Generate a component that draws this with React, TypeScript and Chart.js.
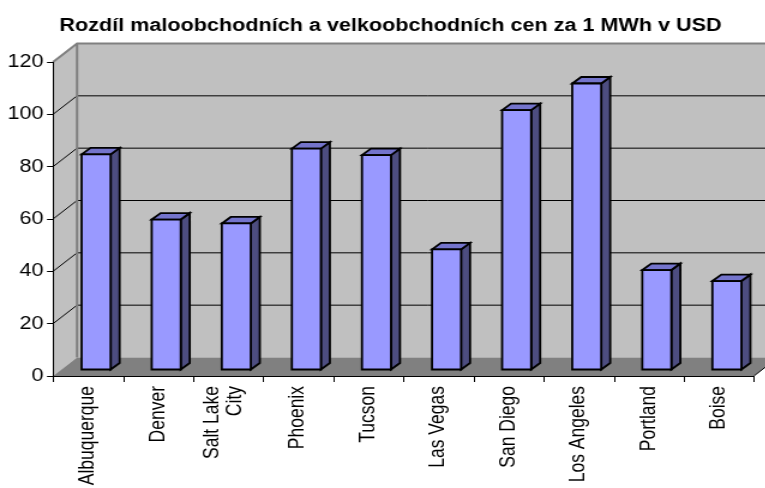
import React, { useEffect, useRef } from "react";
import { Chart, registerables } from "chart.js";

Chart.register(...registerables);

const TITLE = "Rozdíl maloobchodních a velkoobchodních cen za 1 MWh v USD";
const CATEGORIES: (string | string[])[] = [
  "Albuquerque",
  "Denver",
  ["Salt Lake", "City"],
  "Phoenix",
  "Tucson",
  "Las Vegas",
  "San Diego",
  "Los Angeles",
  "Portland",
  "Boise",
];
const VALUES = [82.4, 57.5, 56, 84.6, 82.1, 46.1, 99.3, 109.5, 38.2, 34];
const Y_MIN = 0;
const Y_MAX = 120;
const Y_STEP = 20;

// drawing constants (canvas units; the canvas bitmap is stretched horizontally)
const SX = 765 / 638;
const CANVAS_W = 651;
const CANVAS_H = 488;
const WALL_DX = 20;
const WALL_DY = -18.5;
const BAR_OX = 6.7;
const BAR_OY = -6;
const BAR_DX = 7.5;
const BAR_DY = -6.5;
const BAR_THICKNESS = 24.2;
const X_TICK_LEN = 6;
const MULTILINE_SHIFT = 0.23; // centre two-line labels on their category
const FONT = "'Liberation Sans', Arial, sans-serif";

function poly(ctx: CanvasRenderingContext2D, pts: number[][], fill?: string, stroke?: string, lw = 1) {
  ctx.beginPath();
  ctx.moveTo(pts[0][0], pts[0][1]);
  for (let i = 1; i < pts.length; i++) ctx.lineTo(pts[i][0], pts[i][1]);
  ctx.closePath();
  if (fill) {
    ctx.fillStyle = fill;
    ctx.fill();
  }
  if (stroke) {
    ctx.strokeStyle = stroke;
    ctx.lineWidth = lw;
    ctx.stroke();
  }
}

const threeDPlugin = {
  id: "threeD",
  beforeDraw(chart: any) {
    const { ctx, chartArea: a } = chart;
    const y = chart.scales.y;
    const L = a.left;
    const R = a.right;
    const T = y.getPixelForValue(Y_MAX);
    const B = y.getPixelForValue(Y_MIN);
    ctx.save();
    ctx.fillStyle = "#c0c0c0";
    ctx.fillRect(L + WALL_DX, T + WALL_DY, R - L, B - T);
    poly(ctx, [[L, T], [L + WALL_DX, T + WALL_DY], [L + WALL_DX, B + WALL_DY], [L, B]], "#c0c0c0");
    poly(ctx, [[L, B], [R, B], [R + WALL_DX, B + WALL_DY], [L + WALL_DX, B + WALL_DY]], "#808080");
    ctx.strokeStyle = "#000000";
    ctx.lineWidth = 1;
    for (const t of y.ticks) {
      const v = t.value;
      if (v <= Y_MIN || v >= Y_MAX) continue;
      const py = y.getPixelForValue(v);
      ctx.beginPath();
      ctx.moveTo(L, py);
      ctx.lineTo(L + WALL_DX, py + WALL_DY);
      ctx.lineTo(R + WALL_DX, py + WALL_DY);
      ctx.stroke();
    }
    ctx.strokeStyle = "#808080";
    ctx.lineWidth = 2;
    ctx.beginPath();
    ctx.moveTo(L, T);
    ctx.lineTo(L + WALL_DX, T + WALL_DY);
    ctx.lineTo(R + WALL_DX, T + WALL_DY);
    ctx.moveTo(L + WALL_DX, T + WALL_DY);
    ctx.lineTo(L + WALL_DX, B + WALL_DY);
    ctx.stroke();
    ctx.strokeStyle = "#000000";
    ctx.lineWidth = 1;
    ctx.beginPath();
    ctx.moveTo(R, B);
    ctx.lineTo(R + WALL_DX, B + WALL_DY);
    ctx.stroke();
    ctx.restore();
  },
  afterDatasetsDraw(chart: any) {
    const { ctx } = chart;
    const meta = chart.getDatasetMeta(0);
    ctx.save();
    ctx.lineJoin = "miter";
    meta.data.forEach((el: any) => {
      const { x, y, base, width } = el.getProps(["x", "y", "base", "width"], true);
      const l = x - width / 2 + BAR_OX;
      const r = x + width / 2 + BAR_OX;
      const t = y + BAR_OY;
      const b = base + BAR_OY;
      poly(ctx, [[r, t], [r + BAR_DX, t + BAR_DY], [r + BAR_DX, b + BAR_DY], [r, b]], "#4d4d80", "#000", 1.8);
      poly(ctx, [[l, t], [l + BAR_DX, t + BAR_DY], [r + BAR_DX, t + BAR_DY], [r, t]], "#7474cc", "#000", 1.8);
      poly(ctx, [[l, t], [r, t], [r, b], [l, b]], "#9999ff", "#000", 1.8);
    });
    // category boundary tick marks on the x axis
    const xs = chart.scales.x;
    const y0 = chart.chartArea.bottom;
    ctx.strokeStyle = "#000";
    ctx.lineWidth = 1;
    ctx.beginPath();
    for (let i = 0; i <= CATEGORIES.length; i++) {
      const px = Math.round(xs.getPixelForValue(i - 0.5)) + 0.5;
      ctx.moveTo(px, y0);
      ctx.lineTo(px, y0 + X_TICK_LEN);
    }
    ctx.stroke();
    ctx.restore();
  },
};

export default function App() {
  const ref = useRef<HTMLCanvasElement | null>(null);
  useEffect(() => {
    if (!ref.current) return;
    const chart = new Chart(ref.current, {
      type: "bar",
      data: {
        labels: CATEGORIES,
        datasets: [
          {
            data: VALUES,
            backgroundColor: "rgba(0,0,0,0)",
            borderWidth: 0,
            barThickness: BAR_THICKNESS,
            yAxisID: "y",
          },
        ],
      },
      options: {
        animation: false,
        responsive: false,
        devicePixelRatio: 1,
        layout: { padding: 0 },
        plugins: {
          legend: { display: false },
          tooltip: { enabled: false },
          title: {
            display: true,
            text: TITLE,
            color: "#000",
            font: { family: FONT, size: 18, weight: "bold", lineHeight: 1.2 },
            padding: { top: 15.7, bottom: 24.7 },
          },
        },
        scales: {
          x: {
            afterFit: (s: any) => {
              s.height = 112;
            },
            afterTickToLabelConversion: (s: any) => {
              s.ticks.forEach((t: any) => {
                if (Array.isArray(t.label) && t.label.length > 1) t.value = t.value - MULTILINE_SHIFT;
              });
            },
            grid: {
              display: true,
              offset: true,
              drawOnChartArea: false,
              drawTicks: false,
              tickLength: X_TICK_LEN,
              color: "#000",
            },
            border: { display: true, color: "#000", width: 1 },
            ticks: {
              autoSkip: false,
              maxRotation: 90,
              minRotation: 90,
              padding: 4 + X_TICK_LEN,
              color: "#000",
              font: { family: FONT, size: 17.5, lineHeight: 1.08 },
            },
          },
          y: {
            min: Y_MIN,
            max: Y_MAX,
            afterFit: (s: any) => {
              s.width = 44.2;
            },
            grid: {
              display: true,
              drawOnChartArea: false,
              drawTicks: true,
              tickLength: 5,
              color: "#000",
            },
            border: { display: true, color: "#000", width: 1 },
            ticks: {
              stepSize: Y_STEP,
              padding: 3,
              color: "#000",
              font: { family: FONT, size: 18 },
            },
          },
          yRight: {
            type: "linear",
            position: "right",
            display: true,
            min: 0,
            max: 1,
            afterFit: (s: any) => {
              s.width = 22.6;
            },
            grid: { display: false, drawTicks: false },
            border: { display: false },
            ticks: { display: false },
          },
        },
      },
      plugins: [threeDPlugin],
    } as any);
    return () => chart.destroy();
  }, []);
  return (
    <div
      style={{
        position: "fixed",
        left: 0,
        top: 0,
        width: 765,
        height: 488,
        overflow: "hidden",
        background: "#fff",
      }}
    >
      <canvas
        ref={ref}
        width={CANVAS_W}
        height={CANVAS_H}
        style={{ width: `${CANVAS_W * SX}px`, height: `${CANVAS_H}px`, display: "block" }}
      />
    </div>
  );
}
